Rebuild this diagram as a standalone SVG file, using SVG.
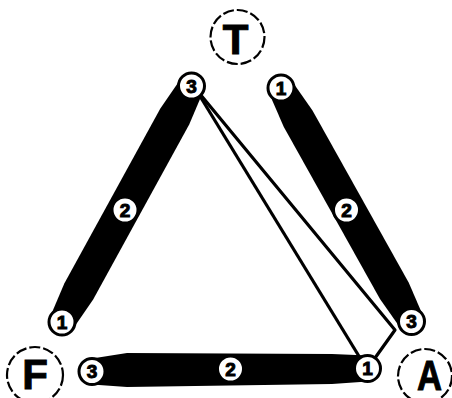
<svg xmlns="http://www.w3.org/2000/svg" width="452" height="398" viewBox="0 0 452 398">
<style>
.bar{fill:#000;stroke:none}
.wire{fill:none;stroke:#000;stroke-width:3.2;stroke-linejoin:round}
.node circle{fill:#fff;stroke:#000;stroke-width:3}
.node text{font-family:"Liberation Sans",Arial,sans-serif;font-weight:bold;font-size:19px;text-anchor:middle;fill:#000;stroke:#000;stroke-width:1}
.site circle{fill:#fff;stroke:#000;stroke-width:2.2;stroke-dasharray:11 3}
.site text{font-family:"Liberation Sans",Arial,sans-serif;font-weight:bold;font-size:42px;text-anchor:middle;fill:#000;stroke:#000;stroke-width:1}
</style>
<rect width="452" height="398" fill="#fff"/>
<g id="bars">
<polygon class="bar" points="202.9,92.3 189.2,124.6 93.3,299.2 73.4,328.3 50.6,315.7 64.3,283.4 160.2,108.8 180.1,79.7"/>
<polygon class="bar" points="292.4,81.7 312.5,110.5 408.8,282.8 422.8,315.2 400.2,327.8 380,299 283.7,126.7 269.6,94.3"/>
<polygon class="bar" points="92,358.5 127,353 332,354 367.5,355.5 367.5,381.5 332,384 127,387 92,384.5"/>
</g>
<g id="connectors">
<polyline class="wire" points="195,88 366.5,368.5"/>
<polyline class="wire" points="195,88 395,330 367.5,368.5"/>
</g>
<g id="site-T" class="site"><circle cx="237.5" cy="37" r="27"/><text x="235.5" y="53.5">T</text></g>
<g id="site-F" class="site"><circle cx="35" cy="375" r="28"/><text x="35" y="389">F</text></g>
<g id="site-A" class="site"><circle cx="425" cy="376" r="27"/><text x="429.5" y="390" textLength="25" lengthAdjust="spacingAndGlyphs">A</text></g>
<g id="n-T3" class="node"><circle cx="191.5" cy="86" r="13"/><text x="191.5" y="92.8">3</text></g>
<g id="n-T1" class="node"><circle cx="281" cy="88" r="13"/><text x="281" y="94.8">1</text></g>
<g id="n-L2" class="node"><circle cx="125" cy="210" r="13"/><text x="125" y="216.8">2</text></g>
<g id="n-F1" class="node"><circle cx="62" cy="322" r="13"/><text x="62" y="328.8">1</text></g>
<g id="n-R2" class="node"><circle cx="346.5" cy="210" r="13"/><text x="346.5" y="216.8">2</text></g>
<g id="n-A3" class="node"><circle cx="411.5" cy="321.5" r="13"/><text x="411.5" y="328.3">3</text></g>
<g id="n-F3" class="node"><circle cx="92" cy="371.5" r="13"/><text x="92" y="378.3">3</text></g>
<g id="n-B2" class="node"><circle cx="230.5" cy="369" r="13"/><text x="230.5" y="375.8">2</text></g>
<g id="n-A1" class="node"><circle cx="367.5" cy="368.5" r="13"/><text x="367.5" y="375.3">1</text></g>
</svg>
